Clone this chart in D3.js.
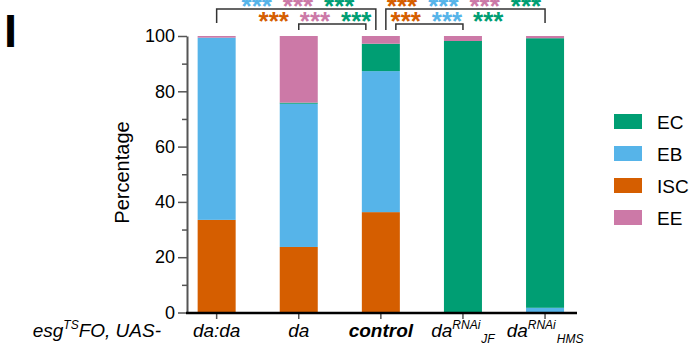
<!DOCTYPE html>
<html>
  <head>
    <meta charset="utf-8">
    <title>Cell type percentages</title>
    <script src="https://cdn.jsdelivr.net/npm/d3@7"></script>
    <style>
      body { margin: 0; background: #fff; }
      text { font-family: "Liberation Sans", Arial, Helvetica, sans-serif; }
    </style>
  </head>
  <body>
    <script>

      // genotypes on the x axis ("^" = superscript, "_" = subscript)
      var categories = ["da:da", "da", "control", "da^RNAi_JF", "da^RNAi_HMS"];

      // percentage of each cell type, stacked bottom to top: ISC, EB, EC, EE
      var ISC = [33.5, 23.7, 36.3, 0, 0];
      var EB  = [65.9, 51.8, 51.0, 0, 1.7];
      var EC  = [0, 0.4, 9.9, 98.2, 97.5];
      var EE  = [0.6, 24.1, 2.8, 1.8, 0.8];

      var seriesNames = ["ISC", "EB", "EC", "EE"];
      var legendOrder = ["EC", "EB", "ISC", "EE"];
      var yTicks = [0, 20, 40, 60, 80, 100];
      var yMinorTicks = [10, 30, 50, 70, 90];

      // significance: outer comparisons (top row) and inner ones (second row)
      var comparisons = [
        { a: "da:da", b: "control", row: 0, stars: ["EB", "EE", "EC"] },
        { a: "control", b: "da^RNAi_HMS", row: 0, stars: ["ISC", "EB", "EE", "EC"] },
        { a: "da", b: "control", row: 1, stars: ["ISC", "EE", "EC"] },
        { a: "control", b: "da^RNAi_JF", row: 1, stars: ["ISC", "EB", "EC"] }
      ];

      var color = {
        EC: "#009E73",
        EB: "#56B4E9",
        ISC: "#D55E00",
        EE: "#CC79A7"
      };

      var values = { ISC: ISC, EB: EB, EC: EC, EE: EE };
      var table = categories.map(function(c, i) {
        var row = { cat: c };
        seriesNames.forEach(function(s) { row[s] = values[s][i]; });
        return row;
      });

      var svg = d3.select("body")
                  .append("svg")
                  .attr("width", 693)
                  .attr("height", 346);

      var y = d3.scaleLinear().domain([0, 100]).range([312.5, 36]);
      var x = d3.scaleBand()
                .domain(categories)
                .range([175.6, 586.1])
                .paddingInner(0.537)
                .paddingOuter(0.2685);
      var cx = function(c) { return x(c) + x.bandwidth() / 2; };

      // panel letter
      svg.append("text")
         .attr("x", 4).attr("y", 46.5)
         .attr("font-size", 47).attr("font-weight", "bold")
         .text("I");

      // stacked bars
      var stack = d3.stack().keys(seriesNames)(table);
      svg.selectAll("g.layer")
         .data(stack)
         .enter()
         .append("g")
         .attr("class", "layer")
         .attr("fill", function(d) { return color[d.key]; })
         .selectAll("rect")
         .data(function(d) { return d; })
         .enter()
         .append("rect")
         .attr("x", function(d) { return x(d.data.cat); })
         .attr("width", x.bandwidth())
         .attr("y", function(d) { return y(d[1]); })
         .attr("height", function(d) { return y(d[0]) - y(d[1]); });

      // y axis
      var yAxis = svg.append("g")
                     .attr("transform", "translate(187,0)")
                     .call(d3.axisLeft(y).tickValues(yTicks).tickSize(9).tickSizeOuter(0).tickPadding(3));
      yAxis.select(".domain").attr("stroke", "#555").attr("stroke-width", 2);
      yAxis.selectAll(".tick line").attr("stroke", "#555").attr("stroke-width", 1.5);
      yAxis.selectAll(".tick text")
           .attr("font-size", 18).attr("fill", "#000")
           .attr("font-family", "Liberation Sans, Arial, sans-serif");

      var yMinor = svg.append("g")
                      .attr("transform", "translate(187,0)")
                      .call(d3.axisLeft(y).tickValues(yMinorTicks).tickSize(5).tickFormat(""));
      yMinor.select(".domain").remove();
      yMinor.selectAll(".tick line").attr("stroke", "#555").attr("stroke-width", 1.5);

      svg.append("text")
         .attr("transform", "translate(129,172.5) rotate(-90)")
         .attr("text-anchor", "middle")
         .attr("font-size", 20)
         .text("Percentage");

      // x axis
      var xAxis = svg.append("g")
                     .attr("transform", "translate(0,313)")
                     .call(d3.axisBottom(x).tickSize(6).tickSizeOuter(0).tickFormat(""));
      xAxis.select(".domain").remove();
      xAxis.selectAll(".tick line").attr("stroke", "#555").attr("stroke-width", 1.5);
      svg.append("line")
         .attr("x1", 186).attr("x2", 577)
         .attr("y1", 313).attr("y2", 313)
         .attr("stroke", "#000").attr("stroke-width", 2.5);

      // x labels with super/subscripts
      var labels = svg.selectAll("text.xlab")
                      .data(categories)
                      .enter()
                      .append("text")
                      .attr("class", "xlab")
                      .attr("x", function(d) { return cx(d); })
                      .attr("y", 336.7)
                      .attr("text-anchor", "middle")
                      .attr("font-size", 19)
                      .attr("font-style", "italic")
                      .attr("font-weight", function(d) { return d == "control" ? "bold" : "normal"; });
      labels.each(function(d) {
        var t = d3.select(this);
        var m = d.match(/^([^\^_]+)(\^([^_]+))?(_(.+))?$/);
        t.append("tspan").text(m[1]);
        if (m[3]) t.append("tspan").attr("font-size", 12).attr("dy", -7.5).text(m[3]);
        if (m[5]) t.append("tspan").attr("font-size", 12).attr("dx", 1).attr("dy", 14).text(m[5]);
      });

      var lead = svg.append("text")
                    .attr("x", 161).attr("y", 336.7)
                    .attr("text-anchor", "end")
                    .attr("font-size", 19)
                    .attr("font-style", "italic");
      lead.append("tspan").text("esg");
      lead.append("tspan").attr("font-size", 12).attr("dy", -7.5).text("TS");
      lead.append("tspan").attr("dy", 7.5).text("FO, UAS-");

      // significance brackets
      var rowTop = [9, 24];
      var starY = [15, 30];
      var starCentre = [298, 464, 315, 447];
      var ctrl = cx("control");
      comparisons.forEach(function(c, i) {
        var xa = cx(c.a), xb = cx(c.b);
        var inset = c.row == 0 ? 5 : 15;
        var ya = 30, yb = 30;
        if (c.a == "control") xa = ctrl + inset; else if (c.row == 0) ya = 23;
        if (c.b == "control") xb = ctrl - inset; else if (c.row == 0) yb = 23;
        svg.append("path")
           .attr("d", "M" + xa + "," + ya + "V" + rowTop[c.row] + "H" + xb + "V" + yb)
           .attr("fill", "none")
           .attr("stroke", "#333")
           .attr("stroke-width", 1.5);
        var n = c.stars.length;
        c.stars.forEach(function(s, j) {
          svg.append("text")
             .attr("x", starCentre[i] + (j - (n - 1) / 2) * 41.3)
             .attr("y", starY[c.row])
             .attr("text-anchor", "middle")
             .attr("font-size", 26)
             .attr("font-weight", "bold")
             .attr("fill", color[s])
             .text("***");
        });
      });

      // legend
      var legend = svg.selectAll("g.leg")
                      .data(legendOrder)
                      .enter()
                      .append("g")
                      .attr("class", "leg")
                      .attr("transform", function(d, i) { return "translate(614," + (114 + i * 32) + ")"; });
      legend.append("rect")
            .attr("width", 28).attr("height", 15)
            .attr("fill", function(d) { return color[d]; });
      legend.append("text")
            .attr("x", 43).attr("y", 14.5)
            .attr("font-size", 19)
            .text(function(d) { return d; });

    </script>
  </body>
</html>
